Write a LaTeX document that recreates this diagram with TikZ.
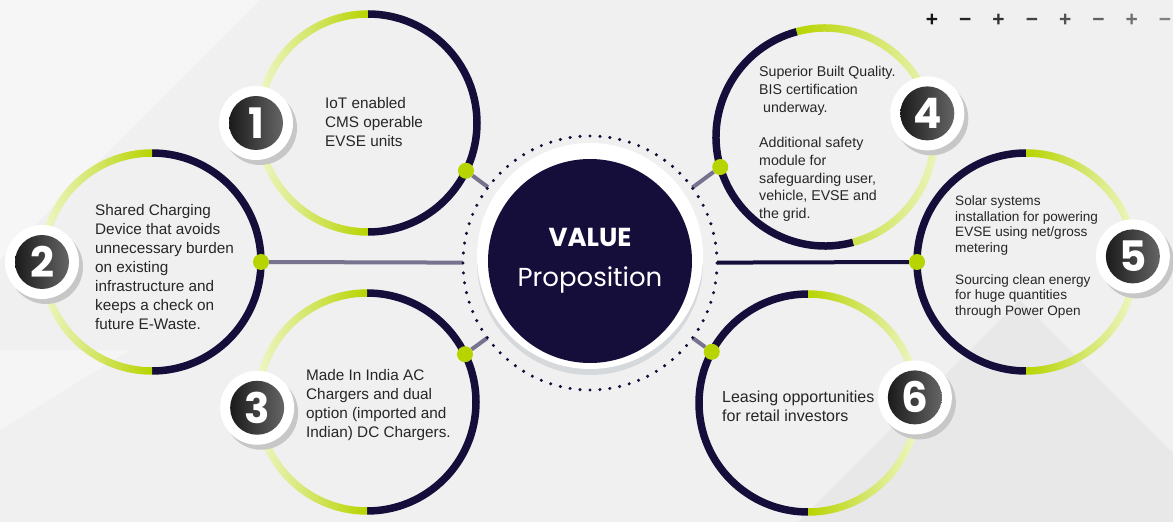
\documentclass[tikz,border=0pt]{standalone}
\usepackage{fontspec}
\setmainfont{Liberation Sans}
\newfontfamily\popfont{Poppins}
\usetikzlibrary{positioning, calc, shadows}

\definecolor{navy}{HTML}{150E3A}
\definecolor{lime}{HTML}{B8D400}
\definecolor{palelime}{HTML}{F0F7CC}
\definecolor{linkgray}{HTML}{77728D}
\definecolor{bodytext}{HTML}{262626}
\definecolor{paper}{HTML}{F0F0F1}
\definecolor{rim}{HTML}{D5D9DC}

\begin{document}
\begin{tikzpicture}[
  x=1pt, y=1pt,
  every node/.style={text=bodytext},
  note/.style={anchor=west, align=left, inner sep=0pt,
    font=\fontsize{15.3}{19}\selectfont},
  badge/.style={circle, fill=white, minimum size=74pt, inner sep=0pt,
    drop shadow={shadow xshift=4pt, shadow yshift=-5pt, fill=black!22, opacity=1},
    path picture={\shade[left color=black!95, right color=black!55]
      (path picture bounding box.center) circle (27pt);},
    font=\popfont\bfseries\fontsize{42}{42}\selectfont, text=white},
  knob/.style={circle, fill=lime, minimum size=16pt, inner sep=0pt},
  link/.style={linkgray, line width=4pt},
  ring left/.pic={
    \draw[navy, line width=7.5pt] (90:109) arc (90:-90:109);
    \shade[left color=palelime, right color=lime]
      (90:112.75) arc (90:270:112.75) -- (270:105.25) arc (270:90:105.25) -- cycle;
  },
  ring right/.pic={
    \draw[navy, line width=7.5pt] (90:109) arc (90:270:109);
    \shade[left color=lime, right color=palelime]
      (90:112.75) arc (90:-90:112.75) -- (-90:105.25) arc (-90:90:105.25) -- cycle;
  },
]
  \useasboundingbox (0,0) rectangle (1173,522);

  % backdrop
  \fill[paper] (0,0) rectangle (1173,522);
  \fill[white, opacity=0.45] (0,522) -- (260,522) -- (0,262) -- cycle;
  \fill[white, opacity=0.35] (0,172) -- (0,92) -- (130,172) -- cycle;
  \fill[black, opacity=0.03] (1020,222) -- (1173,69) -- (1173,0) -- (798,0) -- cycle;

  % ring centres
  \coordinate (r1) at (368,399);
  \coordinate (r2) at (152,260);
  \coordinate (r3) at (367,120);
  \coordinate (r4) at (825,385);
  \coordinate (r5) at (1026,260);
  \coordinate (r6) at (808,119);

  \pic at (r1) {ring left};
  \pic at (r2) {ring left};
  \pic at (r3) {ring left};
  \pic[rotate=15] at (r4) {ring right};
  \pic at (r5) {ring right};
  \pic at (r6) {ring right};

  % centre halo
  \node[circle, minimum size=254pt, inner sep=0pt] (halo) at (590,259) {};

  % knobs and links
  \node[knob] (k1) at ($(r1)+(-26:109)$) {};
  \node[knob] (k2) at ($(r2)+(0:109)$) {};
  \node[knob] (k3) at ($(r3)+(26:109)$) {};
  \node[knob] (k4) at ($(r4)+(196:109)$) {};
  \node[knob] (k5) at ($(r5)+(180:109)$) {};
  \node[knob] (k6) at ($(r6)+(152:109)$) {};

  \draw[link] (k1) -- (halo);
  \draw[link] (k2) -- (halo);
  \draw[link] (k3) -- (halo);
  \draw[link] (k4) -- (halo);
  \draw[link, navy] (k5) -- (halo);
  \draw[link] (k6) -- (halo);

  % value proposition core
  \draw[navy, line width=3.4pt, line cap=round, dash pattern=on 0pt off 9.975pt]
    (halo.center) circle (127);
  \fill[rim] (590,260) circle (113);
  \fill[white] (590,266) circle (113);
  \node[circle, fill=navy, minimum size=204pt, inner sep=0pt, align=center,
    text=white, font=\popfont\fontsize{26}{40}\selectfont] (core) at (590,261)
    {{\bfseries VALUE}\\Proposition};

  % numbered badges
  \node[badge] (b1) at ($(r1)+(180:112)$) {1};
  \node[badge] (b2) at ($(r2)+(180:110)$) {2};
  \node[badge] (b3) at ($(r3)+(183:110)$) {3};
  \node[badge] (b4) at ($(r4)+(13:105)$) {4};
  \node[badge] (b5) at ($(r5)+(3:107)$) {5};
  \node[badge] (b6) at ($(r6)+(3:107)$) {6};

  % ring texts
  \node[note] (t1) at (325,400) {IoT enabled\\CMS operable\\EVSE units};
  \node[note] (t2) at (95,255) {Shared Charging\\Device that avoids\\unnecessary burden\\on existing\\infrastructure and\\keeps a check on\\future E-Waste.};
  \node[note] (t3) at (306,117) {Made In India AC\\Chargers and dual\\option (imported and\\Indian) DC Chargers.};
  \node[note, font=\fontsize{14.2}{17.7}\selectfont] (t4) at (759,378)
    {Superior Built Quality.\\BIS certification\\\ underway.\\[17.7pt]Additional safety\\module for\\safeguarding user,\\vehicle, EVSE and\\the grid.};
  \node[note, font=\fontsize{13.6}{15.7}\selectfont] (t5) at (955,265)
    {Solar systems\\installation for powering\\EVSE using net/gross\\metering\\[16pt]Sourcing clean energy\\for huge quantities\\through Power Open};
  \node[note, font=\fontsize{16}{19}\selectfont] (t6) at (722,116)
    {Leasing opportunities\\for retail investors};

  % plus/minus strip
  \foreach \s [count=\i from 0] in {+,−,+,−,+,−,+,−} {
    \pgfmathsetmacro\tone{92-6*\i}
    \node[anchor=base, inner sep=0pt, text=black!\tone,
      font=\bfseries\fontsize{21}{21}\selectfont] (pm\i) at (932+33.3*\i,495) {\s};
  }
\end{tikzpicture}
\end{document}
